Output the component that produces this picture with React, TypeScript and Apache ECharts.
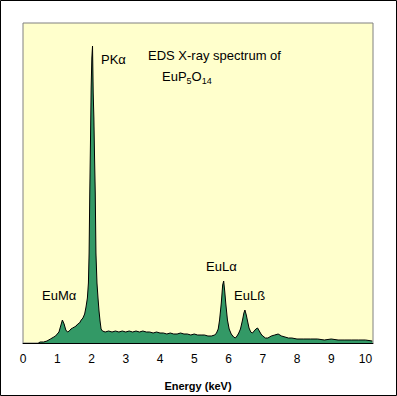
import React, { useEffect, useRef } from "react";
import * as echarts from "echarts";

// Energy (keV) and relative counts
const energies = [
  0.45, 0.5, 0.6, 0.7, 0.8, 0.9, 0.95, 1.0, 1.05, 1.1, 1.15, 1.2, 1.25, 1.3, 1.35, 1.4, 1.45, 1.5,
  1.55, 1.6, 1.65, 1.7, 1.75, 1.8, 1.84, 1.88, 1.91, 1.93, 1.95, 1.97, 1.99, 2.01, 2.03, 2.05,
  2.07, 2.09, 2.11, 2.13, 2.16, 2.19, 2.22, 2.25, 2.28, 2.32, 2.4, 2.5, 2.6, 2.7, 2.8, 2.9, 3.0,
  3.1, 3.2, 3.3, 3.4, 3.5, 3.6, 3.7, 3.8, 3.9, 4.0, 4.1, 4.2, 4.3, 4.4, 4.5, 4.6, 4.7, 4.8, 4.9,
  5.0, 5.1, 5.2, 5.3, 5.4, 5.5, 5.6, 5.65, 5.7, 5.74, 5.79, 5.83, 5.86, 5.89, 5.92, 5.97, 6.02,
  6.08, 6.15, 6.2, 6.25, 6.3, 6.35, 6.41, 6.45, 6.48, 6.52, 6.55, 6.6, 6.65, 6.7, 6.75, 6.8,
  6.85, 6.9, 6.95, 7.0, 7.08, 7.15, 7.25, 7.35, 7.45, 7.55, 7.65, 7.75, 7.85, 8.0, 8.2, 8.4,
  8.6, 8.8, 9.0, 9.2, 9.4, 9.6, 9.8, 10.0, 10.2,
];
const counts = [
  0, 1, 1, 2, 4, 6, 7, 9, 11, 17, 23, 19, 13, 11, 12, 14, 15, 16,
  17, 19, 20, 23, 25, 29, 36, 45, 60, 90, 150, 200, 255, 285, 297, 250,
  225, 185, 150, 90, 60, 45, 32, 22, 14, 12, 11, 12, 11, 12, 11, 12, 11,
  12, 11, 12, 11, 12, 11, 11, 10, 11, 10, 10, 9, 10, 9, 9, 10, 9, 9, 8,
  9, 8, 8, 8, 7, 7, 8, 10, 14, 23, 40, 58, 62, 52, 40, 23, 14,
  9, 6, 5, 7, 10, 14, 23, 30, 33, 28, 23, 15, 11, 10, 12, 14,
  15, 12, 9, 7, 5, 5, 7, 8, 9, 7, 6, 5, 5, 4, 4, 4,
  4, 3, 4, 3, 3, 3, 3, 3, 2,
];
const xTicks = { min: 0, max: 10.22, interval: 1 };
const titleLine1 = "EDS X-ray spectrum of";
const peakLabels = [
  { text: "PKα", x: 101, y: 59 },
  { text: "EuMα", x: 42, y: 295 },
  { text: "EuLα", x: 206, y: 266 },
  { text: "EuLß", x: 234, y: 295 },
];

const FONT = "'Liberation Sans', Arial, sans-serif";

export default function App() {
  const ref = useRef<HTMLDivElement>(null);
  useEffect(() => {
    if (!ref.current) return;
    const chart = echarts.init(ref.current, undefined, { renderer: "svg" });
    const data = energies.map((e, i) => [e, counts[i]]);
    chart.setOption({
      animation: false,
      backgroundColor: "#FFFFFF",
      grid: {
        left: 23,
        top: 23,
        width: 350,
        height: 320,
        show: true,
        backgroundColor: "#FFFFCC",
        borderColor: "#808080",
        borderWidth: 1,
      },
      xAxis: {
        type: "value",
        min: xTicks.min,
        max: xTicks.max,
        interval: xTicks.interval,
        name: "Energy (keV)",
        nameLocation: "middle",
        nameGap: 37,
        nameTextStyle: { fontFamily: FONT, fontSize: 11, fontWeight: "bold", color: "#000" },
        axisLine: { show: true, lineStyle: { color: "#000", width: 1 } },
        axisTick: { show: false },
        splitLine: { show: false },
        axisLabel: {
          fontFamily: FONT,
          fontSize: 12,
          color: "#000",
          margin: 10,
          formatter: (v: number) => (Math.abs(v - Math.round(v)) < 1e-6 ? String(Math.round(v)) : ""),
        },
      },
      yAxis: {
        type: "value",
        min: 0,
        max: 320,
        show: false,
        splitLine: { show: false },
      },
      series: [
        {
          type: "line",
          data,
          symbol: "none",
          lineStyle: { color: "#000", width: 1 },
          areaStyle: { color: "#339966", opacity: 1 },
          z: 2,
        },
      ],
      graphic: [
        {
          type: "rect",
          shape: { x: 0.5, y: 0.5, width: 396, height: 395 },
          style: { fill: "none", stroke: "#000", lineWidth: 1 },
          silent: true,
        },
        {
          type: "text",
          x: 148,
          y: 55,
          style: { text: titleLine1, font: `13px ${FONT}`, fill: "#000", verticalAlign: "middle" },
        },
        {
          type: "text",
          x: 162,
          y: 70,
          style: {
            text: "{m|EuP}{s|5}{m|O}{s|14}",
            fill: "#000",
            verticalAlign: "top",
            rich: {
              m: { fontFamily: FONT, fontSize: 13, lineHeight: 15, verticalAlign: "top" },
              s: { fontFamily: FONT, fontSize: 9, lineHeight: 10, verticalAlign: "bottom" },
            },
          },
        },
        ...peakLabels.map((p) => ({
          type: "text",
          x: p.x,
          y: p.y,
          style: { text: p.text, font: `13px ${FONT}`, fill: "#000", verticalAlign: "middle" },
        })),
      ],
    });
    return () => chart.dispose();
  }, []);
  return (
    <div
      ref={ref}
      style={{ position: "absolute", left: 0, top: 0, width: 397, height: 396 }}
    />
  );
}
